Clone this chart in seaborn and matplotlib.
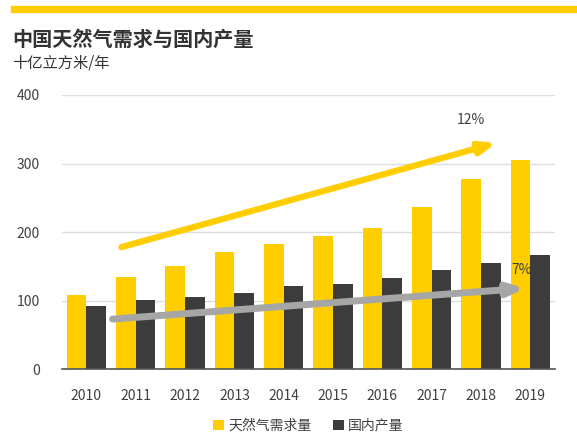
import pandas as pd
import matplotlib.pyplot as plt
import seaborn as sns

# data
years = ['2010', '2011', '2012', '2013', '2014', '2015', '2016', '2017', '2018', '2019']
demand = [108, 134, 150, 171, 183, 194, 206, 237, 278, 305]
production = [92, 101, 105, 111, 122, 124, 133, 145, 155, 167]
series_names = ['天然气需求量', '国内产量']

# growth arrows (x index, value) and their labels
demand_trend = [(0.71, 178), (8.31, 330)]
prod_trend = [(0.53, 73), (8.89, 118)]
demand_growth = '12%'
prod_growth = '7%'

df = pd.DataFrame({
    'year': years * 2,
    'value': demand + production,
    'series': [series_names[0]] * len(years) + [series_names[1]] * len(years),
})

sns.set_style('white')
plt.rcParams['font.family'] = ['Noto Sans CJK SC', 'DejaVu Sans']

yellow = '#FFCD00'
dark = '#3C3C3C'
arrow_grey = '#A6A6A6'
text_grey = '#404040'

fig = plt.figure(figsize=(5.77, 4.48), dpi=100)
ax = fig.add_axes([0.107, 0.176, 0.855, 0.612])

sns.barplot(data=df, x='year', y='value', hue='series', palette=[yellow, dark],
            hue_order=series_names, errorbar=None, width=0.8, saturation=1,
            linewidth=0, edgecolor='none', ax=ax, zorder=2)

ax.set_xlim(-0.5, 9.5)
ax.set_ylim(0, 400)
ax.set_yticks([0, 100, 200, 300, 400])
ax.grid(axis='y', color='#DDDDDD', linewidth=1, zorder=0)
ax.set_axisbelow(True)
for s in ['top', 'right', 'left']:
    ax.spines[s].set_visible(False)
ax.spines['bottom'].set_color('#555555')
ax.spines['bottom'].set_linewidth(1.2)
ax.tick_params(axis='both', length=0, labelsize=10, colors=text_grey)
ax.tick_params(axis='y', pad=16)
ax.tick_params(axis='x', pad=14)
ax.set_xlabel('')
ax.set_ylabel('')

# growth arrows
ax.annotate('', xy=demand_trend[1], xytext=demand_trend[0],
            arrowprops=dict(arrowstyle='-|>,head_length=0.9,head_width=0.35',
                            color=yellow, lw=4.5, shrinkA=0, shrinkB=0), zorder=5)
ax.annotate('', xy=prod_trend[1], xytext=prod_trend[0],
            arrowprops=dict(arrowstyle='-|>,head_length=0.9,head_width=0.35',
                            color=arrow_grey, lw=5, shrinkA=0, shrinkB=0), zorder=5)
ax.text(7.79, 364, demand_growth, ha='center', va='center', fontsize=10, color=text_grey)
ax.text(8.82, 145, prod_growth, ha='center', va='center', fontsize=10, color=text_grey, zorder=6)

leg = ax.legend(loc='upper center', bbox_to_anchor=(0.5, -0.135), ncol=2, frameon=False,
                fontsize=10, handlelength=0.8, handleheight=0.8, handletextpad=0.3,
                columnspacing=1.5)
for t in leg.get_texts():
    t.set_color(text_grey)

# title block
fig.patches.append(plt.Rectangle((11 / 577, 1 - 12.5 / 448), 1, 6 / 448,
                                 transform=fig.transFigure, color=yellow, zorder=0))
fig.text(12 / 577, 1 - 39 / 448, '中国天然气需求与国内产量', fontsize=14.5, fontweight='bold',
         color='#333333', va='center', ha='left')
fig.text(12 / 577, 1 - 63 / 448, '十亿立方米/年', fontsize=11, color='#333333',
         va='center', ha='left')

fig.savefig('out.png', dpi=100)
